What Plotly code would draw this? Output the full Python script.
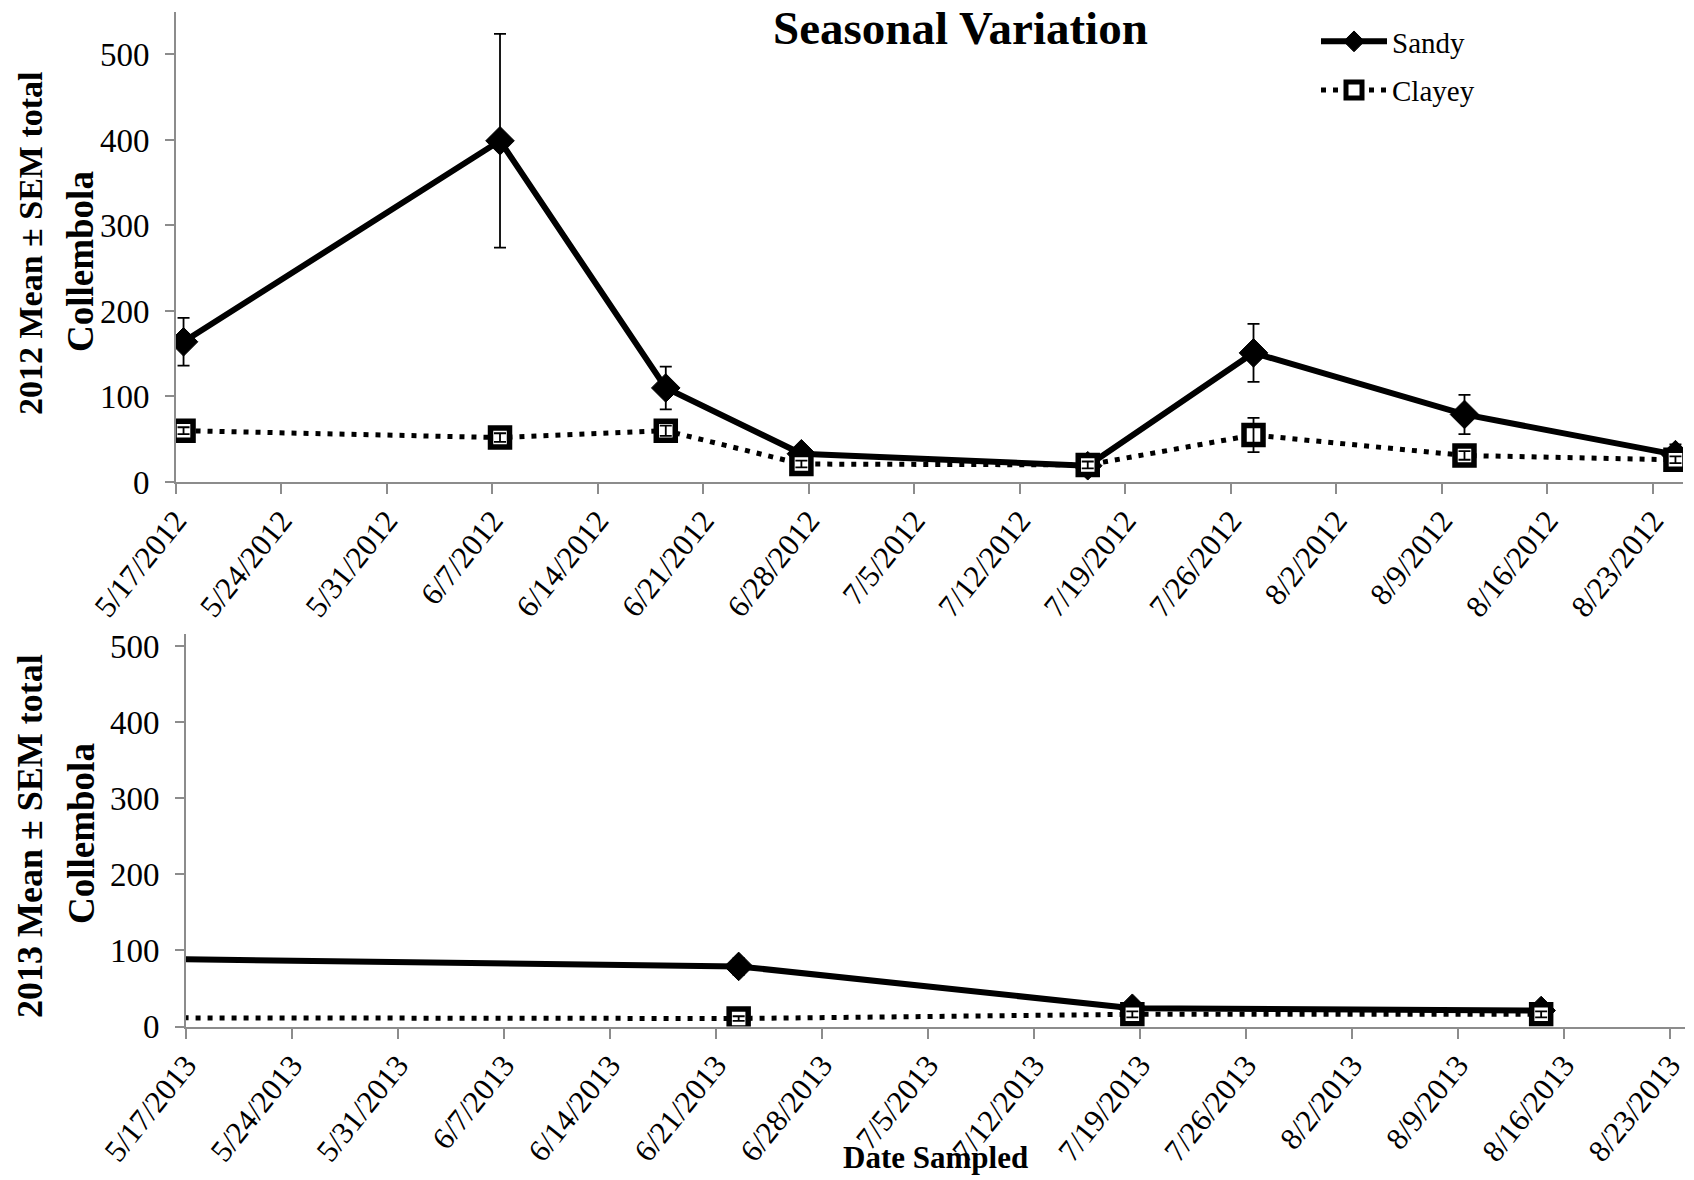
import pandas as pd
import plotly.graph_objects as go

# ---------------- data ----------------
dates_2012 = ["2012-05-17", "2012-06-07", "2012-06-18", "2012-06-27",
              "2012-07-16", "2012-07-27", "2012-08-10", "2012-08-24"]
sandy_2012 = [164, 399, 110, 33, 19, 151, 79, 32]
sandy_2012_sem = [28, 125, 25, 5, 3, 34, 23, 12]
clayey_2012 = [60, 52, 60, 21, 20, 55, 31, 26]
clayey_2012_sem = [4, 5, 6, 4, 4, 20, 5, 4]

dates_2013 = ["2013-05-10", "2013-06-22", "2013-07-18", "2013-08-14"]
sandy_2013 = [90, 79, 24, 21]
sandy_2013_sem = [8, 11, 5, 3]
clayey_2013 = [11.5, 10.5, 16, 16]
clayey_2013_sem = [2, 3, 4, 4]

tick_labels_y = [0, 100, 200, 300, 400, 500]

W, H = 1694, 1180
FONT = "Liberation Serif"
AXIS_GREY = "#8c8c8c"

def fx(px):
    return px / W

def fy(py):
    return 1 - py / H

# Excel date axis "between tick marks": points drawn mid-day
def midday(ds):
    return pd.to_datetime(ds) + pd.Timedelta(hours=12)

x12 = midday(dates_2012)
x13 = midday(dates_2013)

fig = go.Figure()

def add_series(x, y, sem, xa, ya, kind, show):
    if kind == "Sandy":
        line = dict(color="black", width=6)
        marker = dict(symbol="diamond", size=22, color="black",
                      line=dict(color="black", width=1))
    else:
        line = dict(color="black", width=5, dash="5px,7px")
        marker = dict(symbol="square", size=19, color="white",
                      line=dict(color="black", width=5.5))
    fig.add_trace(go.Scatter(
        x=x, y=y, mode="lines+markers", name=kind, line=line, marker=marker,
        xaxis=xa, yaxis=ya, showlegend=show, legendgroup=kind,
        hoverinfo="skip"))
    # error bars drawn above markers
    fig.add_trace(go.Scatter(
        x=x, y=y, mode="markers",
        marker=dict(size=1, color="rgba(0,0,0,0)"),
        error_y=dict(type="data", array=sem, visible=True, color="black",
                     thickness=1.8, width=6),
        xaxis=xa, yaxis=ya, showlegend=False, hoverinfo="skip"))

add_series(x12, sandy_2012, sandy_2012_sem, "x", "y", "Sandy", True)
add_series(x12, clayey_2012, clayey_2012_sem, "x", "y", "Clayey", True)
add_series(x13, sandy_2013, sandy_2013_sem, "x2", "y2", "Sandy", False)
add_series(x13, clayey_2013, clayey_2013_sem, "x2", "y2", "Clayey", False)

WEEK_MS = 7 * 24 * 3600 * 1000

common_x = dict(
    type="date", dtick=WEEK_MS, tickformat="%-m/%-d/%Y", tickangle=-51,
    showline=True, linecolor=AXIS_GREY, linewidth=2,
    ticks="outside", ticklen=10, tickwidth=2, tickcolor=AXIS_GREY,
    showgrid=False, zeroline=False, automargin=False,
    ticklabelstandoff=-4, ticklabeloverflow="allow",
    tickfont=dict(family=FONT, size=31, color="black"),
)
common_y = dict(
    tickvals=tick_labels_y,
    showline=True, linecolor=AXIS_GREY, linewidth=2,
    ticks="outside", ticklen=9, tickwidth=2, tickcolor=AXIS_GREY,
    showgrid=False, zeroline=False, ticklabelstandoff=9, automargin=False,
    tickfont=dict(family=FONT, size=33, color="black"),
)

fig.update_layout(
    template="none",
    width=W, height=H,
    margin=dict(l=0, r=0, t=0, b=0, pad=0, autoexpand=False),
    paper_bgcolor="white", plot_bgcolor="white",
    font=dict(family=FONT, color="black"),
    xaxis=dict(common_x, domain=[fx(176), fx(1683)], anchor="y",
               range=["2012-05-17", "2012-08-25"], tick0="2012-05-17"),
    yaxis=dict(common_y, domain=[fy(482), fy(11.7)], anchor="x",
               range=[0, 550]),
    xaxis2=dict(common_x, domain=[fx(186), fx(1685)], anchor="y2",
                range=["2013-05-17", "2013-08-24"], tick0="2013-05-17"),
    yaxis2=dict(common_y, domain=[fy(1026.5), fy(634)], anchor="x2",
                range=[0, 516]),
    legend=dict(x=fx(1316), y=fy(16), xanchor="left", yanchor="top",
                itemwidth=66, tracegroupgap=8, traceorder="grouped",
                font=dict(family=FONT, size=29, color="black"),
                bgcolor="rgba(0,0,0,0)"),
    showlegend=True,
)

annots = [
    dict(text="<b>Seasonal Variation</b>", x=fx(960), y=fy(28),
         font=dict(size=47)),
    dict(text="<b>2012 Mean ± SEM total</b>", x=fx(30), y=fy(243),
         textangle=-90, font=dict(size=34)),
    dict(text="<b>Collembola</b>", x=fx(81), y=fy(262),
         textangle=-90, font=dict(size=37)),
    dict(text="<b>2013 Mean ± SEM total</b>", x=fx(30), y=fy(836),
         textangle=-90, font=dict(size=36)),
    dict(text="<b>Collembola</b>", x=fx(81), y=fy(834),
         textangle=-90, font=dict(size=37)),
    dict(text="<b>Date Sampled</b>", x=fx(935), y=fy(1157),
         font=dict(size=31)),
]
for a in annots:
    fig.add_annotation(xref="paper", yref="paper", showarrow=False,
                       xanchor="center", yanchor="middle",
                       font_family=FONT, font_color="black", **a)

# remove the browser's default 8px body margin so the figure fills the window
fig.write_html(
    "out.html",
    config={"displayModeBar": False},
    post_script="document.body.style.margin='0px';"
                "document.documentElement.style.overflow='hidden';",
)
